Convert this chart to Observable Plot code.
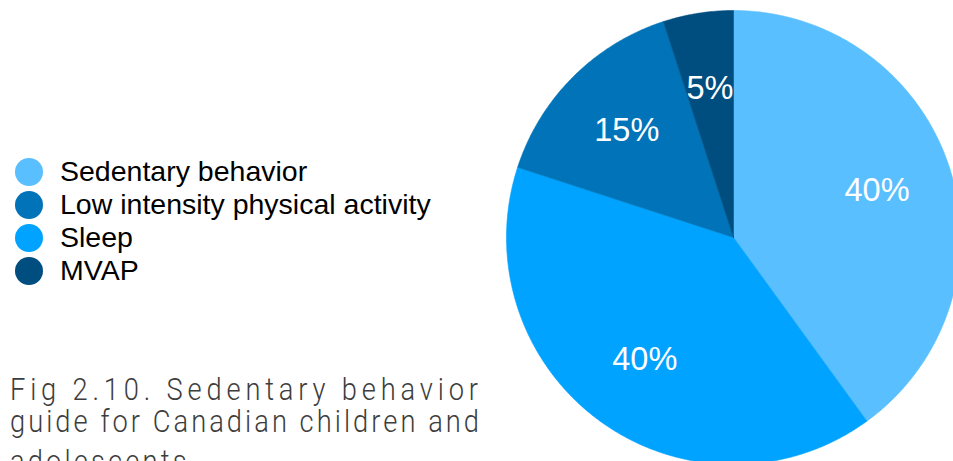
<!DOCTYPE html>
<html>
<head>
<meta charset="utf-8">
<script src="https://cdn.jsdelivr.net/npm/d3@7"></script>
<script src="https://cdn.jsdelivr.net/npm/@observablehq/plot@0.6"></script>
<style>
  html, body { margin: 0; padding: 0; background: #fff; }
  body { width: 953px; height: 461px; overflow: hidden; position: relative; }
  #legend { position: absolute; left: 15px; top: 155px; font-family: "Liberation Sans", Arial, sans-serif; font-size: 28.5px; color: #000; }
  .item { display: flex; align-items: center; height: 33px; line-height: 1; }
  .sw { width: 28px; height: 28px; border-radius: 50%; margin-right: 17px; flex: none; }
  #caption { position: absolute; left: 0; top: 0; }
  #pie { position: absolute; left: 506px; top: 10px; width: 454px; height: 454px; }
  #pie svg { max-width: none !important; }
</style>
</head>
<body>
<div id="legend"></div>
<svg id="caption" width="953" height="461"></svg>
<div id="pie"></div>
<script>
// Legend order
const categories = ["Sedentary behavior", "Low intensity physical activity", "Sleep", "MVAP"];
const colors = ["#5ABFFF", "#0073B9", "#00A3FF", "#004E80"];
// Pie order (clockwise from 12 o'clock)
const sliceNames = ["Sedentary behavior", "Sleep", "Low intensity physical activity", "MVAP"];
const sliceValues = [40, 40, 15, 5];
const sliceLabels = ["40%", "40%", "15%", "5%"];
const captionLines = ["Fig 2.10. Sedentary behavior", "guide for Canadian children and", "adolescents"];

// Legend
const legend = document.getElementById("legend");
categories.forEach((c, i) => {
  const row = document.createElement("div");
  row.className = "item";
  const sw = document.createElement("span");
  sw.className = "sw";
  sw.style.background = colors[i];
  const t = document.createElement("span");
  t.textContent = c;
  row.append(sw, t);
  legend.append(row);
});

// Caption (SVG text, condensed and fitted per line)
const capSvg = d3.select("#caption");
const capBaselines = [400, 432, 472];
const k = 0.88;
const capFit = [468, 469, null];
captionLines.forEach((l, i) => {
  const t = capSvg.append("text")
    .attr("transform", `translate(10,${capBaselines[i]}) scale(${k},1)`)
    .attr("font-family", "Roboto, sans-serif").attr("font-weight", 300)
    .attr("font-size", 31).attr("fill", "#3d3d3d")
    .text(l);
  if (capFit[i]) t.attr("textLength", capFit[i] / k).attr("lengthAdjust", "spacing");
  else t.attr("letter-spacing", 3.6);
});

// Pie geometry from data
const slices = sliceNames.map((name, i) => ({name, value: sliceValues[i], label: sliceLabels[i]}));
const arcs = d3.pie().sort(null).value(d => d.value).startAngle(0).endAngle(2 * Math.PI)(slices);
const pts = [];
arcs.forEach(a => {
  pts.push({name: a.data.name, x: 0, y: 0});
  const n = Math.max(8, Math.ceil((a.endAngle - a.startAngle) / 0.01));
  for (let j = 0; j <= n; j++) {
    const t = a.startAngle + (a.endAngle - a.startAngle) * j / n;
    pts.push({name: a.data.name, x: Math.sin(t), y: Math.cos(t)});
  }
  pts.push({name: a.data.name, x: 0, y: 0});
});
const labelR = 0.665;
const labels = arcs.map(a => {
  const m = (a.startAngle + a.endAngle) / 2;
  return {label: a.data.label, x: labelR * Math.sin(m), y: labelR * Math.cos(m)};
});

const size = 454;
const chart = Plot.plot({
  width: size, height: size, margin: 0,
  x: {domain: [-1, 1], axis: null},
  y: {domain: [-1, 1], axis: null},
  color: {domain: categories, range: colors},
  style: {background: "transparent", overflow: "visible", maxWidth: "none"},
  marks: [
    Plot.line(pts, {x: "x", y: "y", z: "name", fill: "name", stroke: "name", strokeWidth: 0.6, curve: "linear"}),
    Plot.text(labels, {x: "x", y: "y", text: "label", fill: "white", fontSize: 32.5, fontFamily: "Liberation Sans, Arial, sans-serif"})
  ]
});
document.getElementById("pie").append(chart);
</script>
</body>
</html>
